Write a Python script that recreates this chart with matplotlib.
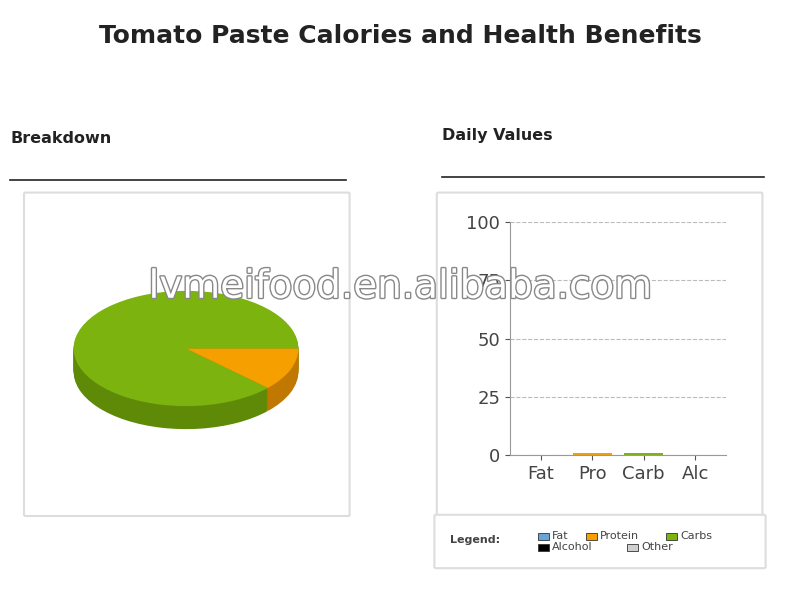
import matplotlib.pyplot as plt
import matplotlib.patheffects as pe
from matplotlib.patches import Rectangle, FancyBboxPatch

title = "Tomato Paste Calories and Health Benefits"
pie_labels = ["Carbs", "Protein"]
pie_values = [88, 12]
pie_colors = ["#7cb30f", "#f5a000"]
pie_side = ["#5e8a08", "#c07800"]

bar_cats = ["Fat", "Pro", "Carb", "Alc"]
bar_vals = [0, 1, 1, 0]
bar_colors = ["#6aa5d8", "#f5a000", "#7cb30f", "#000000"]
yticks = [0, 25, 50, 75, 100]

legend_names = ["Fat", "Protein", "Carbs", "Alcohol", "Other"]
legend_colors = ["#6aa5d8", "#f5a000", "#7cb30f", "#000000", "#d0d0d0"]

fig = plt.figure(figsize=(8, 6), dpi=100)
fig.text(0.5, 0.94, title, ha="center", va="center", fontsize=18, fontweight="bold", color="#222222")
fig.text(0.013, 0.762, "Breakdown", fontsize=11.5, fontweight="bold", color="#222222")
fig.text(0.552, 0.767, "Daily Values", fontsize=11.5, fontweight="bold", color="#222222")
fig.add_artist(plt.Line2D([0.013, 0.432], [0.70, 0.70], color="#222222", lw=1.2))
fig.add_artist(plt.Line2D([0.552, 0.955], [0.705, 0.705], color="#222222", lw=1.2))

# panels
for (x, y, w, h) in [(0.032, 0.142, 0.403, 0.535), (0.548, 0.06, 0.403, 0.617), (0.545, 0.055, 0.41, 0.085)]:
    fig.add_artist(FancyBboxPatch((x, y), w, h, boxstyle="round,pad=0.002", transform=fig.transFigure,
                                  facecolor="white", edgecolor="#dddddd", lw=1.5, zorder=0))

# pie (flattened, with depth)
axp = fig.add_axes([0.085, 0.28, 0.295, 0.24])
for dy in [x * 0.02 for x in range(20, 0, -1)]:
    axp.pie(pie_values, colors=pie_side, startangle=0, counterclock=True, center=(0, -dy),
            wedgeprops=dict(linewidth=0), frame=True)
axp.pie(pie_values, colors=pie_colors, startangle=0, counterclock=True,
        wedgeprops=dict(linewidth=0), frame=True)
axp.set_xlim(-1.05, 1.05)
axp.set_ylim(-1.45, 1.05)
axp.set_aspect("auto")
axp.axis("off")

# bar chart
axb = fig.add_axes([0.6375, 0.2417, 0.27, 0.388])
axb.bar(range(len(bar_cats)), bar_vals, color=bar_colors, width=0.75)
axb.set_ylim(0, 100)
axb.set_xlim(-0.6, 3.6)
axb.set_yticks(yticks)
axb.set_xticks(range(len(bar_cats)))
axb.set_xticklabels(bar_cats)
axb.tick_params(labelsize=13, colors="#555555", labelcolor="#444444")
axb.yaxis.grid(True, linestyle="--", color="#bbbbbb")
for s in ["top", "right"]:
    axb.spines[s].set_visible(False)
for s in ["left", "bottom"]:
    axb.spines[s].set_color("#999999")

# legend
fig.text(0.563, 0.1, "Legend:", fontsize=8, fontweight="bold", color="#444444", va="center")
pos = [(0.672, 0.106), (0.732, 0.106), (0.832, 0.106), (0.672, 0.088), (0.784, 0.088)]
for (x, y), name, c in zip(pos, legend_names, legend_colors):
    fig.add_artist(Rectangle((x, y - 0.006), 0.014, 0.012, transform=fig.transFigure,
                             facecolor=c, edgecolor="#333333", lw=0.6))
    fig.text(x + 0.018, y, name, fontsize=8, color="#444444", va="center")

fig.text(0.5, 0.522, "lvmeifood.en.alibaba.com", ha="center", va="center", fontsize=28, color="white",
         path_effects=[pe.withStroke(linewidth=2, foreground="#888888")])

fig.savefig("out.png", dpi=100)
